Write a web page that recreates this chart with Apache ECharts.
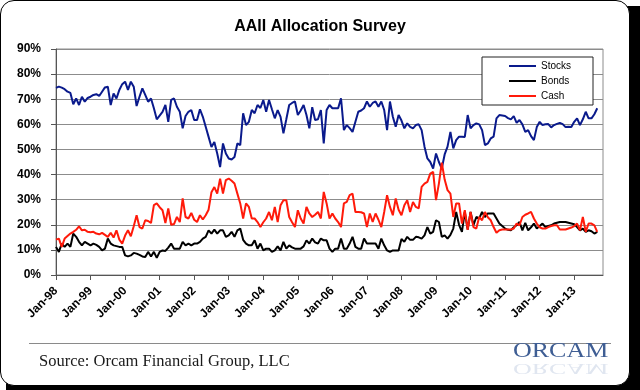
<!DOCTYPE html>
<html>
<head>
<meta charset="utf-8">
<script src="https://cdn.jsdelivr.net/npm/echarts@6/dist/echarts.min.js"></script>
<style>
  html, body { margin: 0; padding: 0; background: #ffffff; }
  #wrap { position: relative; width: 640px; height: 390px; overflow: hidden; background: #ffffff; }
  #shadow { position: absolute; left: 6px; top: 6px; width: 650px; height: 400px; background: #000; border-radius: 16px; }
  #box { position: absolute; left: 0; top: 0; width: 628px; height: 384px; background: #fff; border: 1px solid #000; border-radius: 14px; }
  #chart { position: absolute; left: 0; top: 0; width: 640px; height: 390px; }
</style>
</head>
<body>
<div id="wrap">
  <div id="shadow"></div>
  <div id="box"></div>
  <div id="chart"></div>
</div>
<script>
// ---- Data (monthly, Jan-98 .. Sep-13) ----
const monthAbbr = ['Jan','Feb','Mar','Apr','May','Jun','Jul','Aug','Sep','Oct','Nov','Dec'];
const startYear = 1998;
const categoryCount = 191; // Jan-98 .. Nov-13 (axis extent)
const yTicks = [0, 10, 20, 30, 40, 50, 60, 70, 80, 90];

const stocks = [
  74.5, 75, 74.6, 74, 73, 72.5, 68, 70.3, 67.7, 71, 69, 70.5,
  71, 71.7, 72, 71.3, 73, 74.7, 75, 67.7, 72.3, 70.3, 73.7, 76,
  77, 73.7, 77, 75, 67.3, 71, 74.3, 71.7, 69, 70.3, 66.4, 62,
  63.5, 65, 67.7, 61, 69.7, 70.3, 67, 65, 58.4, 63.3, 65, 65.7,
  61.7, 61.7, 66, 63, 59, 55, 51, 53, 48.4, 43, 52.4, 48.4,
  46.4, 46, 47, 52.4, 51.7, 64.4, 59.7, 61, 65.7, 64.4, 67.7, 66.5,
  69.7, 65, 69.7, 66, 62.4, 65.7, 63, 56.4, 62, 67.7, 68.5, 69.1,
  63.7, 65.5, 67.7, 63.7, 58.4, 66.8, 61.7, 62, 65.7, 52.4, 65.7, 67.7,
  66.4, 66.4, 66.4, 70.4, 57.7, 59.7, 58.5, 57, 61, 65, 65.5, 66.4,
  69.1, 67, 68.5, 69.1, 67, 69.1, 65.7, 57.7, 69.1, 63, 59, 63.7,
  61.5, 58.4, 60.4, 59, 58.4, 59.7, 60, 57.7, 51.1, 46.4, 45, 42.4,
  48.4, 45, 42.4, 48, 51.1, 57, 50.4, 53.7, 55.1, 55.1, 55, 63.7,
  58.4, 59.7, 60.4, 60, 57.7, 51.7, 52.4, 54.4, 55.1, 62.4, 63.7, 63.5,
  63.3, 62.5, 62, 63.3, 60.6, 61.7, 60, 57, 57.7, 55.3, 53.7, 58.9,
  61, 59.7, 60, 60.1, 58.8, 59.7, 60.2, 60.6, 60.1, 58.9, 59, 58.9,
  61, 62.4, 59.7, 62, 65, 62.4, 62.4, 64, 66.4
];

const bonds = [
  11.2, 9.2, 12.5, 11.2, 12.5, 11.2, 16.5, 15.2, 13.2, 11.8, 13.2, 12.5,
  11.8, 12.5, 12, 11.2, 9.8, 10.5, 14.5, 12.5, 11.8, 11.5, 11.2, 11.2,
  7.8, 7.4, 7.8, 8.8, 8.5, 8, 7.4, 7.2, 9.2, 7.4, 9.2, 6.8,
  9.2, 9.8, 9.6, 10.9, 12.5, 10.5, 10.5, 10.5, 13.2, 11.8, 12.5, 11.8,
  12.5, 12.5, 13.2, 14.5, 15.2, 17.8, 16.5, 18.1, 16.5, 17.8, 17.8, 15.2,
  15.8, 17.2, 15.2, 17.8, 18.5, 14, 12.5, 11.8, 11.8, 13.8, 10.5, 12.5,
  9.8, 10.5, 10.5, 9.2, 9.8, 11.4, 9.8, 13.2, 10.5, 11.8, 11, 10.5,
  10.5, 10.5, 11.4, 13.8, 12.5, 14.5, 13, 12.5, 14.5, 13.8, 13.8, 10.5,
  9.2, 10.5, 10.5, 14.5, 10.5, 10.5, 12.5, 15.2, 11.2, 10.5, 10.5, 14.5,
  12.5, 12.5, 12.5, 12.5, 10.5, 14.5, 11.8, 9.8, 9.2, 9.8, 9.8, 9.8,
  14.3, 13.2, 15.2, 14, 14, 15.2, 15, 14.5, 15.8, 19.1, 16.5, 17.2,
  21.8, 21.1, 15.2, 15.8, 14.5, 16, 18.5, 25.1, 20, 17.2, 25.1, 18.1,
  25.1, 19.8, 23.1, 22.5, 25.1, 23.1, 24.5, 24.5, 24.5, 22.5, 20.5, 19.5,
  18.5, 18, 17.8, 19, 19.8, 21.1, 17.8, 20.8, 17.8, 19, 20.5, 18.5,
  19.5, 20.5, 19.1, 19.5, 19.8, 20.5, 20.8, 21.1, 21.1, 21.1, 20.8, 20.5,
  20.2, 19.1, 17.8, 18.5, 17.2, 17.8, 17.4, 16.5, 17.2
];

const cash = [
  14.1, 14.5, 11.2, 14.5, 15.5, 16.5, 17.2, 18, 19.4, 17.8, 18, 17.2,
  17, 17.2, 16.5, 16.2, 16.8, 16, 15.2, 16.8, 14.9, 17.8, 14.1, 12.5,
  15.7, 17.8, 15.4, 19.4, 23.8, 19.1, 18.5, 21.8, 21.5, 20.7, 27.8, 28.5,
  27, 25.8, 20.7, 26.5, 20, 20.3, 23.1, 21.1, 30.5, 23.1, 22.5, 24.7,
  22, 21.1, 23.8, 22.1, 23.8, 26, 33, 35, 32.4, 38.4, 32.4, 37.8,
  38.4, 37.5, 36.4, 32.4, 28.5, 22.5, 28.5, 27.1, 22.5, 22.5, 21.1, 19.1,
  21, 22.5, 25.1, 21.8, 27.1, 21.1, 27.8, 29.8, 29.8, 23.1, 21, 19.1,
  25.8, 22.5, 20.5, 27.1, 24.5, 23.1, 24, 25.1, 22.5, 33.1, 28.5, 22.5,
  24.5, 22.5, 21.1, 19.1, 28.5, 29.1, 31.8, 32.4, 25.1, 25.1, 25, 24.5,
  19.1, 24.5, 21.1, 24.5, 22, 19.1, 25.1, 31.8, 27.1, 23.8, 30.5, 26,
  23.8, 27.8, 29.8, 25.1, 29.1, 27.1, 26.5, 35.1, 36.4, 37.1, 40.4, 41.1,
  29.8, 36.4, 44.7, 38, 33.8, 32.4, 23.1, 28.5, 28.5, 20.5, 25.8, 18,
  25.1, 19.1, 18.5, 23.1, 21.8, 25.1, 23, 21.8, 19.1, 16.8, 17.8, 18.1,
  18.1, 18.1, 18.1, 18.5, 20.5, 19.8, 23.1, 24, 24.5, 25.1, 22.5, 20.5,
  19, 18.5, 18.5, 19.1, 19.5, 19.8, 19.8, 18.1, 18.1, 18.1, 18.5, 18.9,
  19.5, 20.5, 17.8, 23.1, 17.2, 20.5, 20.5, 19.8, 17.2
];

const seriesNames = ['Stocks', 'Bonds', 'Cash'];
const seriesColors = ['#0a1a8c', '#000000', '#ff1a0a'];

// ---- Build categories ----
const categories = [];
for (let i = 0; i < categoryCount; i++) {
  const yy = String((startYear + Math.floor(i / 12)) % 100).padStart(2, '0');
  categories.push(monthAbbr[i % 12] + '-' + yy);
}

const FONT = '"Liberation Sans", Arial, sans-serif';
const SERIF = '"Liberation Serif", "Times New Roman", serif';
const chart = echarts.init(document.getElementById('chart'), null, { renderer: 'canvas' });

const option = {
  animation: false,
  backgroundColor: 'transparent',
  title: {
    text: 'AAII Allocation Survey',
    left: 'center',
    top: 14,
    textStyle: { fontFamily: FONT, fontSize: 16, fontWeight: 'bold', color: '#000' }
  },
  legend: {
    data: seriesNames,
    orient: 'vertical',
    left: 482,
    top: 57,
    padding: [3, 22, 3, 27],
    itemGap: 3,
    itemWidth: 27,
    itemHeight: 2,
    icon: 'rect',
    backgroundColor: '#fff',
    borderColor: '#222',
    borderWidth: 1,
    borderRadius: 0,
    textStyle: { fontFamily: FONT, fontSize: 10, color: '#000', lineHeight: 12 }
  },
  grid: {
    left: 56, right: 37, top: 49, bottom: 115,
    show: true, borderColor: '#8c8c8c', borderWidth: 1, backgroundColor: '#fff'
  },
  xAxis: {
    type: 'category',
    data: categories,
    boundaryGap: false,
    axisLine: { lineStyle: { color: '#555', width: 1 } },
    axisTick: { show: true, length: 5, inside: false, interval: (i) => i % 12 === 0, lineStyle: { color: '#555' } },
    axisLabel: {
      interval: (i) => i % 12 === 0,
      rotate: 45,
      margin: 14,
      fontFamily: FONT, fontSize: 12, fontWeight: 'bold', color: '#000'
    },
    splitLine: { show: false }
  },
  yAxis: {
    type: 'value',
    min: yTicks[0], max: yTicks[yTicks.length - 1], interval: 10,
    axisLine: { show: true, lineStyle: { color: '#555', width: 1 } },
    axisTick: { show: true, length: 5, inside: false, lineStyle: { color: '#555' } },
    axisLabel: {
      formatter: '{value}%', margin: 15,
      fontFamily: FONT, fontSize: 12, fontWeight: 'bold', color: '#000'
    },
    splitLine: { show: true, lineStyle: { color: '#8c8c8c', width: 1 } }
  },
  series: [stocks, bonds, cash].map((d, k) => ({
    name: seriesNames[k],
    type: 'line',
    data: d,
    symbol: 'none',
    smooth: false,
    lineStyle: { color: seriesColors[k], width: 2 },
    itemStyle: { color: seriesColors[k] }
  })),
  graphic: [
    { type: 'line', shape: { x1: 29, y1: 343.5, x2: 611, y2: 343.5 }, style: { stroke: '#8a8a8a', lineWidth: 1 } },
    { type: 'text', left: 39, top: 353, style: { text: 'Source: Orcam Financial Group, LLC', fontFamily: SERIF, fontSize: 16.5, fill: '#1a1a1a' } },
    { type: 'text', x: 513, y: 362, scaleX: 1.3, style: { text: 'ORCAM', fontFamily: SERIF, fontSize: 20, textVerticalAlign: 'bottom', fill: '#3f5e94' } },
    { type: 'text', x: 513, y: 361, scaleX: 1.3, scaleY: -0.7, style: { text: 'ORCAM', fontFamily: SERIF, fontSize: 20, textVerticalAlign: 'bottom', fill: '#e0e6f0' } }
  ]
};
chart.setOption(option);
</script>
</body>
</html>
